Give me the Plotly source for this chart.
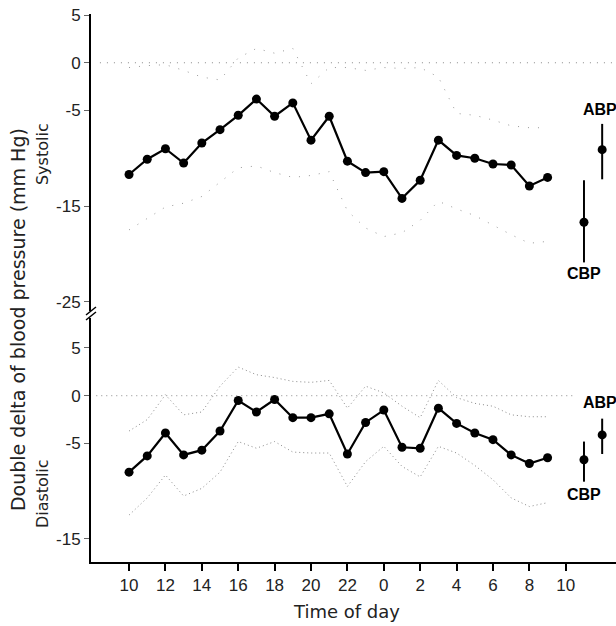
import plotly.graph_objects as go

# ---------------- data ----------------
hours = [10, 11, 12, 13, 14, 15, 16, 17, 18, 19, 20, 21, 22, 23,
         0, 1, 2, 3, 4, 5, 6, 7, 8, 9]

sys_mean = [-11.7, -10.1, -9.0, -10.5, -8.4, -7.0, -5.5, -3.8, -5.6, -4.2, -8.1, -5.6,
            -10.3, -11.5, -11.4, -14.2, -12.3, -8.1, -9.7, -10.0, -10.6, -10.7, -12.9, -12.0]
sys_upper = [-0.5, -0.3, -0.2, -0.8, -1.5, -1.8, 0.5, 1.5, 1.0, 1.5, -2.2, -0.5,
             -0.5, -0.8, -0.5, -0.6, -0.5, -1.5, -5.3, -5.5, -6.0, -6.6, -6.8, -6.8]
sys_lower = [-17.5, -16.3, -15.1, -14.7, -14.0, -12.5, -11.0, -10.8, -11.5, -12.0, -11.8, -11.4,
             -15.5, -17.3, -18.2, -17.8, -16.5, -14.5, -15.3, -16.0, -17.0, -18.0, -18.9, -18.7]

dia_mean = [-8.0, -6.3, -3.9, -6.2, -5.7, -3.7, -0.5, -1.7, -0.4, -2.3, -2.3, -1.9,
            -6.1, -2.8, -1.5, -5.4, -5.5, -1.3, -2.9, -3.9, -4.6, -6.2, -7.1, -6.5]
dia_upper = [-3.7, -2.5, 0.1, -2.0, -1.7, 1.0, 3.0, 2.2, 1.9, 1.5, 1.4, 1.6,
             -1.3, 1.0, 0.3, -1.1, -2.3, 1.6, -0.2, -0.8, -1.1, -2.0, -2.2, -2.2]
dia_lower = [-12.5, -10.7, -8.3, -10.5, -9.7, -8.0, -4.8, -5.5, -4.8, -5.9, -6.0, -6.0,
             -9.5, -6.9, -5.3, -7.4, -8.5, -5.3, -6.0, -7.3, -8.8, -10.7, -11.6, -11.2]

methods = ["CBP", "ABP"]
sys_method_mean = [-16.7, -9.1]
sys_method_hi = [-12.3, -6.4]
sys_method_lo = [-20.9, -12.2]
dia_method_mean = [-6.7, -4.1]
dia_method_hi = [-4.8, -2.4]
dia_method_lo = [-9.0, -6.1]

tick_labels = ["10", "12", "14", "16", "18", "20", "22", "0", "2", "4", "6", "8", "10"]
sys_ticks = [5, 0, -5, -15, -25]
dia_ticks = [5, 0, -5, -15]

# ---------------- derived positions ----------------
x = [(h - hours[0]) % 24 for h in hours]
method_x = [len(hours) + 1, len(hours) + 2]
tick_pos = list(range(0, 2 * len(tick_labels), 2))

TICK_FONT = dict(family="Liberation Sans, Arial, sans-serif", size=17, color="#222")
TEXT_FONT = "DejaVu Sans, sans-serif"

fig = go.Figure()

def add_panel(yax, mean, upper, lower, mm, mhi, mlo, band_dash, band_color):
    for band in (upper, lower):
        fig.add_trace(go.Scatter(
            x=x, y=band, mode="lines", yaxis=yax, hoverinfo="skip",
            line=dict(color=band_color, width=1, dash=band_dash)))
    fig.add_trace(go.Scatter(
        x=x, y=mean, mode="lines+markers", yaxis=yax,
        line=dict(color="black", width=2.2),
        marker=dict(color="black", size=9)))
    fig.add_trace(go.Scatter(
        x=method_x, y=mm, mode="markers", yaxis=yax,
        marker=dict(color="black", size=9),
        error_y=dict(type="data", symmetric=False,
                     array=[h - m for h, m in zip(mhi, mm)],
                     arrayminus=[m - l for m, l in zip(mm, mlo)],
                     thickness=2, width=0, color="black")))

add_panel("y", sys_mean, sys_upper, sys_lower,
          sys_method_mean, sys_method_hi, sys_method_lo, "1px,9px", "#999")
add_panel("y2", dia_mean, dia_upper, dia_lower,
          dia_method_mean, dia_method_hi, dia_method_lo, "1px,3px", "#8a8a8a")

# zero reference lines
fig.add_shape(type="line", xref="x", yref="y", x0=-1.6, x1=26.8, y0=0, y1=0,
              line=dict(color="#8a8a8a", width=1, dash="1px,6px"))
fig.add_shape(type="line", xref="x", yref="y2", x0=-1.8, x1=24.4, y0=0, y1=0,
              line=dict(color="#8a8a8a", width=1, dash="1px,4px"))

# axis break marks
fig.add_shape(type="line", xref="paper", yref="paper",
              x0=-0.0095, x1=0.0095, y0=0.4507, y1=0.4653,
              line=dict(color="black", width=1.5))
fig.add_shape(type="line", xref="paper", yref="paper",
              x0=-0.0095, x1=0.0095, y0=0.4416, y1=0.4562,
              line=dict(color="black", width=1.5))

ann = []
label_font = dict(family="Liberation Sans, Arial, sans-serif", size=16, color="black")
# CBP / ABP labels
for yref, hi, lo, ys_top, ys_bot in (("y", sys_method_hi, sys_method_lo, 4, -1),
                                      ("y2", dia_method_hi, dia_method_lo, 6, -2)):
    ann.append(dict(x=method_x[0], y=lo[0], xref="x", yref=yref, text="<b>%s</b>" % methods[0],
                    showarrow=False, yanchor="top", yshift=ys_bot, font=label_font))
    ann.append(dict(x=method_x[1], y=hi[1], xref="x", yref=yref, text="<b>%s</b>" % methods[1],
                    showarrow=False, yanchor="bottom", yshift=ys_top, xshift=-2, font=label_font))

ann.append(dict(x=0.4876, y=-0.0912, xref="paper", yref="paper", text="Time of day",
                showarrow=False, xanchor="center", yanchor="middle",
                font=dict(family=TEXT_FONT, size=18, color="#222")))
ann.append(dict(x=-0.139, y=0.4416, xref="paper", yref="paper",
                text="Double delta of blood pressure (mm Hg)", textangle=-90,
                showarrow=False, xanchor="center", yanchor="middle",
                font=dict(family=TEXT_FONT, size=19, color="#222")))
ann.append(dict(x=-0.0933, y=0.7445, xref="paper", yref="paper", text="Systolic",
                textangle=-90, showarrow=False, xanchor="center", yanchor="middle",
                font=dict(family=TEXT_FONT, size=16, color="#222")))
ann.append(dict(x=-0.0933, y=0.124, xref="paper", yref="paper", text="Diastolic",
                textangle=-90, showarrow=False, xanchor="center", yanchor="middle",
                font=dict(family=TEXT_FONT, size=16, color="#222")))

yax_common = dict(ticks="outside", ticklen=5, tickwidth=1, tickcolor="#666",
                  showline=True, linecolor="black", linewidth=2,
                  showgrid=False, zeroline=False, anchor="x", tickfont=TICK_FONT)

fig.update_layout(
    width=616, height=626,
    margin=dict(l=91, r=0, t=14, b=64),
    paper_bgcolor="white", plot_bgcolor="white",
    showlegend=False,
    annotations=ann,
    xaxis=dict(range=[-2.09, 26.76], tickvals=tick_pos, ticktext=tick_labels,
               ticks="outside", ticklen=7, tickwidth=1.5, tickcolor="black",
               showline=True, linecolor="black", linewidth=2,
               showgrid=False, zeroline=False, anchor="y2", tickfont=TICK_FONT),
    yaxis=dict(domain=[0.458, 1], range=[-25.99, 5.105], tickvals=sys_ticks,
               ticktext=[str(v) for v in sys_ticks], **yax_common),
    yaxis2=dict(domain=[0, 0.4453], range=[-17.41, 8.14], tickvals=dia_ticks,
                ticktext=[str(v) for v in dia_ticks], **yax_common),
)

fig.write_html("out.html",
               config={"displayModeBar": False},
               post_script="document.body.style.margin='0';document.body.style.overflow='hidden';")
